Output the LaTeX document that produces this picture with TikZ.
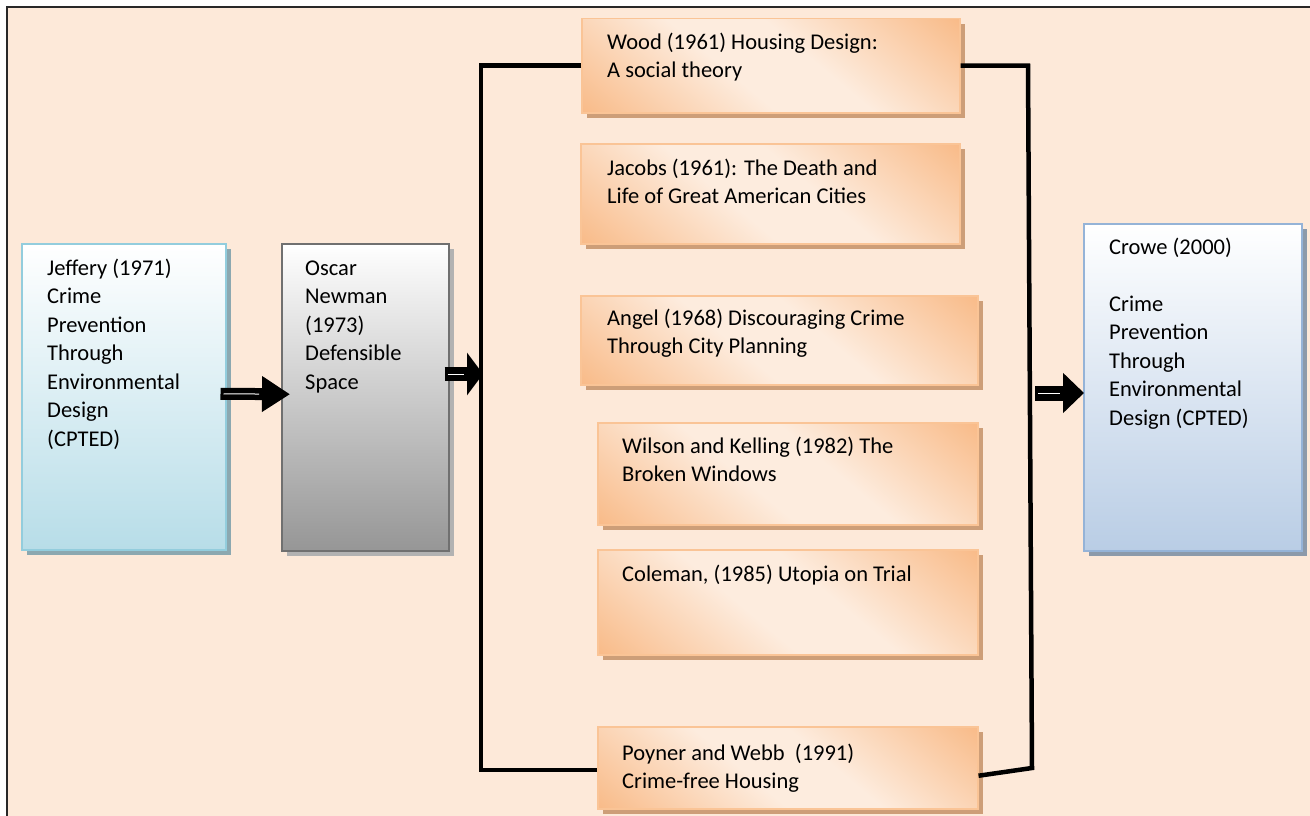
\documentclass[tikz,border=0pt]{standalone}
\usepackage{fontspec}
\setmainfont{Carlito}
\usetikzlibrary{arrows.meta,shadows,calc}

\definecolor{bgpeach}{RGB}{253,233,217}
\definecolor{framegray}{RGB}{40,40,40}
\definecolor{orangedark}{RGB}{248,182,128}
\definecolor{orangelight}{RGB}{253,236,222}
\definecolor{orangeline}{RGB}{250,196,150}
\definecolor{orangeshadow}{RGB}{205,158,120}
\definecolor{bluedark}{RGB}{183,221,232}
\definecolor{blueline}{RGB}{147,205,221}
\definecolor{blueshadow}{RGB}{140,168,176}
\definecolor{graydark}{RGB}{150,150,150}
\definecolor{grayline}{RGB}{112,112,112}
\definecolor{grayshadow}{RGB}{178,178,178}
\definecolor{steeldark}{RGB}{185,205,229}
\definecolor{steelline}{RGB}{149,179,215}
\definecolor{steelshadow}{RGB}{140,154,170}

\pgfdeclareverticalshading{peachdiag}{100bp}{color(0bp)=(orangedark); color(12bp)=(orangedark); color(43bp)=(orangelight); color(57bp)=(orangelight); color(88bp)=(orangedark); color(100bp)=(orangedark)}

\begin{document}
\begin{tikzpicture}[x=1pt,y=-1pt,
  box/.style={anchor=north west, inner sep=0pt, line width=1.5pt},
  orangebox/.style={box, draw=orangeline, shade, shading=peachdiag, shading angle=-40, drop shadow={shadow xshift=5pt, shadow yshift=-5pt, fill=orangeshadow, opacity=1}},
  bluebox/.style={box, draw=#1line, top color=white, bottom color=#1dark, drop shadow={shadow xshift=5pt, shadow yshift=-5pt, fill=#1shadow, opacity=1}},
  txt/.style={anchor=north west, inner sep=0pt, align=left, font=\fontsize{22.5}{28.5}\selectfont},
  bracket/.style={line width=4.5pt, line join=miter},
  blockarrow/.style n args={4}{line width=#1, -{Triangle[length=#2, width=#3]}, postaction={draw=white, line width=1pt, -, shorten <=3pt, shorten >=#4}}]
\useasboundingbox (0,0) rectangle (1310,816);
\fill[white] (0,0) rectangle (1310,816);
\fill[bgpeach] (7,7) rectangle (1310,816);
\draw[framegray, line width=1.3pt] (7,816) -- (7,7) -- (1310,7);

% left boxes
\node[bluebox=blue, minimum width=204pt, minimum height=306pt] (jeffery) at (21,243) {};
\node[txt] (jeffery-t) at (47,255) {\strut Jeffery (1971)\\Crime\\Prevention\\Through\\Environmental\\Design\\(CPTED)};
\node[bluebox=gray, minimum width=167pt, minimum height=307pt] (oscar) at (281,243) {};
\node[txt] (oscar-t) at (305,255) {\strut Oscar\\Newman\\(1973)\\Defensible\\Space};

% middle boxes
\node[orangebox, minimum width=378pt, minimum height=94pt] (wood) at (581,18) {};
\node[txt] (wood-t) at (607,29) {\strut Wood (1961) Housing Design:\\A social theory};
\node[orangebox, minimum width=379pt, minimum height=100pt] (jacobs) at (580,143) {};
\node[txt] (jacobs-t) at (607,155) {\strut Jacobs (1961): The Death and\\Life of Great American Cities};
\node[orangebox, minimum width=397pt, minimum height=89pt] (angel) at (580,295) {};
\node[txt] (angel-t) at (607,305) {\strut Angel (1968) Discouraging Crime\\Through City Planning};
\node[orangebox, minimum width=380pt, minimum height=102pt] (wilson) at (597,422) {};
\node[txt] (wilson-t) at (622,433) {\strut Wilson and Kelling (1982) The\\Broken Windows};
\node[orangebox, minimum width=380pt, minimum height=105pt] (coleman) at (597,549) {};
\node[txt] (coleman-t) at (622,561) {\strut Coleman, (1985) Utopia on Trial};
\node[orangebox, minimum width=380pt, minimum height=82pt] (poyner) at (597,726) {};
\node[txt] (poyner-t) at (622,740) {\strut Poyner and Webb~~(1991)\\Crime-free Housing};

% right box
\node[bluebox=steel, minimum width=218pt, minimum height=327pt] (crowe) at (1083,223) {};
\node[txt] (crowe-t) at (1109,234) {\strut Crowe (2000)\\[28.5pt]Crime\\Prevention\\Through\\Environmental\\Design (CPTED)};

% bracket
\coordinate (lt) at (481,65);
\coordinate (lb) at (481,770);
\coordinate (rt) at (1028,65);
\coordinate (rb) at (1032,768);
\coordinate (joinl) at (483,374);
\coordinate (joinr) at (1035,393);
\draw[bracket] (wood.west) -- (wood.west -| lt) -- (lb) -- (lb -| poyner.west);
\draw[bracket] (wood.east) -- (wood.east -| rt) -- (rb) -- ([yshift=-8pt]poyner.east);

% arrows
\draw[blockarrow={12pt}{28pt}{34pt}{31pt}] ([xshift=-6pt, yshift=3pt]jeffery.east) -- ([xshift=9pt, yshift=3pt]oscar.west);
\draw[blockarrow={14pt}{16pt}{42pt}{19pt}] ($(oscar.east |- joinl)+(-5,0)$) -- (joinl);
\draw[blockarrow={15pt}{21pt}{39pt}{24pt}] (joinr) -- ($(crowe.west |- joinr)+(1,0)$);
\end{tikzpicture}
\end{document}
